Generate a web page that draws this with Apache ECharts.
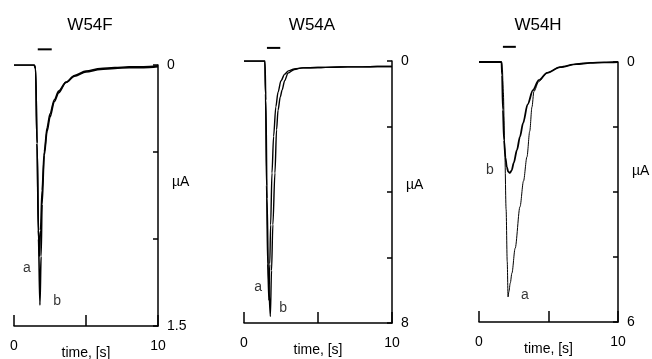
<!DOCTYPE html>
<html>
<head>
<meta charset="utf-8">
<script src="https://cdn.jsdelivr.net/npm/echarts@6/dist/echarts.min.js"></script>
<style>
  html, body { margin: 0; padding: 0; background: #fff; }
  #chart { width: 652px; height: 359px; }
</style>
</head>
<body>
<div id="chart"></div>
<script>
// panel titles and y-axis maxima (µA)
const panels = ['W54F', 'W54A', 'W54H'];
const yMax = [1.5, 8, 6];
const yStep = [0.5, 2, 1.5];

// W54F traces (time s, current µA, inward plotted downward)
const fTimeA = [0, 1.4, 1.5, 1.6, 1.7, 1.76, 1.84, 1.95, 2.1, 2.3, 2.5, 2.8, 3.1, 3.6, 4.2, 5, 6, 7, 8, 9, 10];
const fValA  = [0, 0, 0.02, 0.45, 0.95, 1.1, 0.95, 0.72, 0.5, 0.36, 0.28, 0.2, 0.15, 0.1, 0.065, 0.04, 0.025, 0.02, 0.015, 0.015, 0.01];
const fTimeB = [0, 1.4, 1.5, 1.6, 1.7, 1.8, 1.88, 1.95, 2.1, 2.3, 2.5, 2.8, 3.1, 3.6, 4.2, 5, 6, 7, 8, 9, 10];
const fValB  = [0, 0, 0.02, 0.45, 1.0, 1.38, 1.1, 0.8, 0.52, 0.38, 0.3, 0.21, 0.16, 0.1, 0.06, 0.035, 0.02, 0.015, 0.01, 0.01, 0.005];

// W54A traces
const aTimeA = [0, 1.4, 1.45, 1.52, 1.6, 1.68, 1.74, 1.8, 1.89, 2.0, 2.15, 2.3, 2.5, 2.75, 3.0, 3.4, 4.0, 5, 6, 7, 8, 9, 10];
const aValA  = [0, 0, 1.0, 3.8, 6.2, 7.3, 6.2, 5.0, 3.42, 2.3, 1.4, 0.95, 0.6, 0.4, 0.3, 0.24, 0.21, 0.2, 0.19, 0.18, 0.18, 0.17, 0.17];
const aTimeB = [0, 1.42, 1.48, 1.56, 1.66, 1.78, 1.86, 1.95, 2.09, 2.2, 2.3, 2.45, 2.57, 2.75, 2.97, 3.4, 3.9, 5, 6, 7, 8, 9, 10];
const aValB  = [0, 0, 1.2, 4.2, 6.8, 7.8, 6.4, 5.0, 3.42, 2.1, 1.5, 1.1, 0.89, 0.6, 0.37, 0.26, 0.21, 0.2, 0.19, 0.18, 0.18, 0.17, 0.17];

// W54H traces
const hTimeA = [0, 1.62, 1.68, 1.75, 1.85, 1.95, 2.03, 2.09, 2.15, 2.25, 2.37, 2.6, 2.95, 3.2, 3.45, 3.65, 3.81, 3.95, 4.3, 4.9, 5.8, 7, 8, 9, 10];
const hValA  = [0, 0, 0.15, 0.7, 2.0, 3.4, 4.6, 5.42, 5.3, 5.1, 4.87, 4.3, 3.34, 2.75, 2.19, 1.6, 1.04, 0.68, 0.45, 0.25, 0.12, 0.05, 0.02, 0.01, 0];
const hTimeB = [0, 1.62, 1.66, 1.72, 1.8, 1.9, 2.0, 2.1, 2.23, 2.35, 2.5, 2.73, 2.95, 3.17, 3.5, 3.88, 4.3, 4.9, 5.83, 7, 8, 9, 10];
const hValB  = [0, 0, 0.3, 1.1, 1.8, 2.2, 2.42, 2.53, 2.56, 2.5, 2.33, 2.03, 1.72, 1.41, 0.98, 0.65, 0.42, 0.25, 0.12, 0.05, 0.02, 0.01, 0];

// stimulus bar (start, end in s)
const stimStart = [1.65, 1.55, 1.72];
const stimEnd = [2.62, 2.45, 2.65];
const stimLevel = [-0.09, -0.4, -0.35];

// trace labels [t, value]
const labelA = [[0.9, 1.17], [0.95, 6.9], [3.31, 5.38]];
const labelB = [[2.99, 1.36], [2.64, 7.54], [0.79, 2.49]];

const traces = [
  [[fTimeA, fValA, 1.6], [fTimeB, fValB, 1.6]],
  [[aTimeA, aValA, 1.4], [aTimeB, aValB, 1.4]],
  [[hTimeA, hValA, 1.0], [hTimeB, hValB, 1.8]]
];

const zip = (t, v) => t.map((x, i) => [x, v[i]]);

const grids = [
  { left: 14, top: 65, width: 144, height: 261, outerBoundsMode: 'none' },
  { left: 244, top: 61, width: 148, height: 262, outerBoundsMode: 'none' },
  { left: 479, top: 62, width: 139, height: 260, outerBoundsMode: 'none' }
];
const titleX = [85, 307, 533];
const namePad = [27, 14, 42];

const font = '"Liberation Sans", Arial, sans-serif';
const chart = echarts.init(document.getElementById('chart'));

const xAxis = [], yAxis = [], series = [];
panels.forEach((p, i) => {
  xAxis.push({
    type: 'value', gridIndex: i, position: 'bottom', min: 0, max: 10, interval: 5,
    name: 'time, [s]', nameLocation: 'middle', nameGap: 20, nameMoveOverlap: false,
    nameTextStyle: { color: '#000', fontSize: 14, fontFamily: font },
    axisLine: { onZero: false, lineStyle: { color: '#000', width: 1.5 } },
    axisTick: { inside: true, length: 11, lineStyle: { color: '#000', width: 1.5 } },
    axisLabel: {
      color: '#000', fontSize: 14, fontFamily: font, margin: 13,
      formatter: v => (v === 5 ? '' : String(v))
    },
    splitLine: { show: false }
  });
  yAxis.push({
    type: 'value', gridIndex: i, position: 'right', inverse: true,
    min: 0, max: yMax[i], interval: yStep[i],
    name: '{u|µA}', nameLocation: 'middle', nameGap: 14, nameRotate: 0, nameMoveOverlap: false,
    nameTextStyle: {
      color: '#000', fontSize: 14, fontFamily: font, align: 'left',
      rich: { u: { color: '#000', fontSize: 14, fontFamily: font, padding: [0, 0, namePad[i], 0] } }
    },
    axisLine: { show: true, onZero: false, lineStyle: { color: '#000', width: 1.5 } },
    axisTick: { inside: true, length: 5, lineStyle: { color: '#000', width: 1.5 } },
    axisLabel: {
      color: '#000', fontSize: 14, fontFamily: font, margin: 9,
      formatter: v => (v === 0 || v === yMax[i] ? String(v) : '')
    },
    splitLine: { show: false }
  });
  traces[i].forEach(tr => {
    series.push({
      type: 'line', xAxisIndex: i, yAxisIndex: i,
      data: zip(tr[0], tr[1]),
      showSymbol: false, smooth: 0.3, smoothMonotone: 'x',
      lineStyle: { color: '#000', width: tr[2] },
      silent: true, animation: false
    });
  });
  series.push({
    type: 'line', xAxisIndex: i, yAxisIndex: i, clip: false,
    data: [[stimStart[i], stimLevel[i]], [stimEnd[i], stimLevel[i]]],
    showSymbol: false, lineStyle: { color: '#000', width: 2 }, animation: false
  });
  series.push({
    type: 'scatter', xAxisIndex: i, yAxisIndex: i, symbolSize: 0, clip: false,
    data: [labelA[i].concat('a'), labelB[i].concat('b')],
    label: {
      show: true, position: 'inside', color: '#000', fontSize: 14, fontFamily: font,
      formatter: d => d.value[2]
    },
    animation: false
  });
});

chart.setOption({
  backgroundColor: '#fff',
  animation: false,
  title: panels.map((p, i) => ({
    text: p, left: titleX[i], top: 12, textAlign: 'center',
    textStyle: { color: '#000', fontSize: 17, fontWeight: 'normal', fontFamily: font }
  })),
  grid: grids,
  xAxis: xAxis,
  yAxis: yAxis,
  series: series
});
</script>
</body>
</html>
